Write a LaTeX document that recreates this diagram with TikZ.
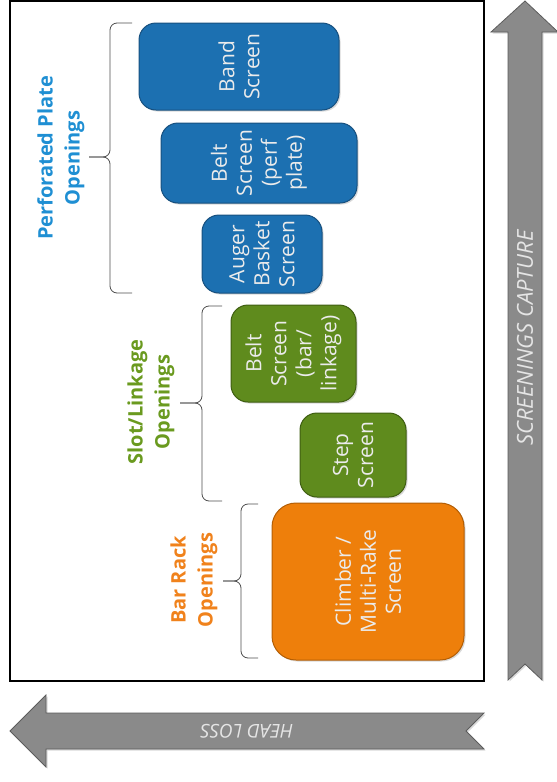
\documentclass[tikz,border=0pt]{standalone}
\usepackage{fontspec}
\setmainfont{Open Sans}
\usetikzlibrary{shadows}
\definecolor{perfblue}{HTML}{1C70B1}
\definecolor{perfedge}{HTML}{17507F}
\definecolor{perftext}{HTML}{1F8FD3}
\definecolor{slotgreen}{HTML}{5F8B1D}
\definecolor{slotedge}{HTML}{3F5E12}
\definecolor{slottext}{HTML}{6A9A1F}
\definecolor{barorange}{HTML}{EE7F0B}
\definecolor{baredge}{HTML}{B35E05}
\definecolor{bartext}{HTML}{F0821C}
\definecolor{arrowgray}{HTML}{8A8A8A}
\definecolor{arrowedge}{HTML}{5C5C5C}
\tikzset{screenbox/.style={rotate=90,rounded corners=17pt,line width=1pt,align=center,
    text=white!92!black,inner sep=0pt,font=\fontsize{21}{25}\selectfont,
    drop shadow={shadow xshift=1.5pt,shadow yshift=-1.5pt,opacity=.3}},
  perfbox/.style={screenbox,fill=perfblue,draw=perfedge},
  slotbox/.style={screenbox,fill=slotgreen,draw=slotedge},
  barbox/.style={screenbox,fill=barorange,draw=baredge},
  grouplabel/.style={rotate=90,align=center,font=\fontsize{20}{27}\selectfont\bfseries},
  groupbrace/.style={rounded corners=7pt,draw=black!70,line width=.8pt},
  bigarrow/.style={fill=arrowgray,draw=arrowedge,line width=.8pt,
    drop shadow={shadow xshift=1.5pt,shadow yshift=-1.5pt,opacity=.3}},
  arrowlabel/.style={font=\fontsize{19}{22}\selectfont\itshape,text=white!90!black}}
\begin{document}
\begin{tikzpicture}[x=1pt,y=-1pt]
\useasboundingbox (0,0) rectangle (557,782);
\draw[line width=2pt] (10,1) rectangle (484,681);
\path[bigarrow] (525,1)--(558,32)--(542,32)--(542,680)--(525,664)--(508,680)--(508,32)--(491,32)--cycle;
\path[bigarrow] (10,731)--(46,695)--(46,713)--(484,713)--(466,731)--(484,749)--(46,749)--(46,767)--cycle;
\node[arrowlabel,rotate=90,font=\fontsize{22}{24}\selectfont\itshape] (capture) at (525,338) {SCREENINGS CAPTURE};
\node[arrowlabel,rotate=180] (headloss) at (247,731) {HEAD LOSS};
\node[perfbox,minimum width=87pt,minimum height=200pt] (band) at (239,66.5) {Band\\Screen};
\node[perfbox,minimum width=80pt,minimum height=196pt] (beltperf) at (259,163) {Belt\\Screen\\(perf\\plate)};
\node[perfbox,minimum width=78pt,minimum height=120pt] (auger) at (262,254) {Auger\\Basket\\Screen};
\node[slotbox,minimum width=97pt,minimum height=125pt] (beltbar) at (293.5,353.5) {Belt\\Screen\\(bar/\\linkage)};
\node[slotbox,minimum width=84pt,minimum height=106pt] (stepscr) at (353,455) {Step\\Screen};
\node[barbox,rounded corners=24pt,minimum width=157pt,minimum height=192pt] (climber) at (368,581.5) {Climber /\\Multi-Rake\\Screen};
\foreach \ex/\vx/\tx/\ty/\ta/\tb in {132/110/89/157/23/293,222/202/180/403/306/501,258/241/223/581/504/658} {
\draw[groupbrace] (\ex,\ta) -| (\vx,\ty) -- (\tx,\ty);
\draw[groupbrace] (\ex,\tb) -| (\vx,\ty) -- (\tx,\ty);}
\node[grouplabel,text=perftext] (perflbl) at (61,158) {Perforated Plate\\Openings};
\node[grouplabel,text=slottext] (slotlbl) at (151,402) {Slot/Linkage\\Openings};
\node[grouplabel,text=bartext] (barlbl) at (194,580) {Bar Rack\\Openings};
\end{tikzpicture}
\end{document}
